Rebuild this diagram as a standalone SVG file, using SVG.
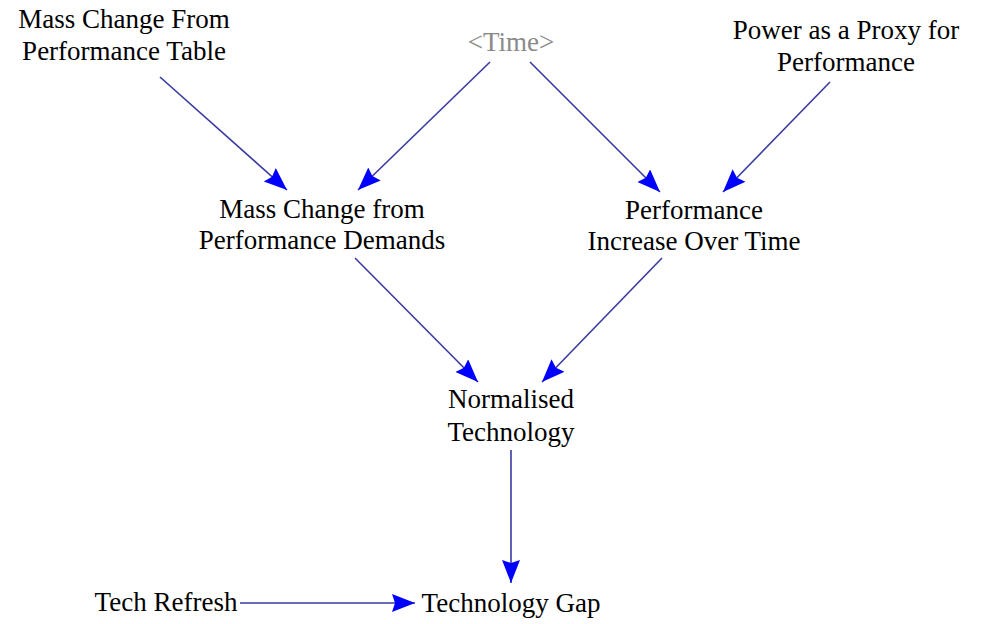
<svg xmlns="http://www.w3.org/2000/svg" width="985" height="624" viewBox="0 0 985 624">
<style>
text{font-family:'Liberation Serif','Times New Roman',Times,'DejaVu Serif',serif;font-size:27px;fill:#000;text-anchor:middle}
.shadow{fill:#8a8a8a}
.ln{stroke:#3a3aa0;stroke-width:1.6;fill:none;marker-end:url(#ah)}
</style>
<defs>
<marker id="ah" markerUnits="userSpaceOnUse" markerWidth="26" markerHeight="20" refX="23" refY="9" orient="auto">
<path d="M0,0 L23,9 L0,18 L3,9 z" fill="#0000ff"/>
</marker>
</defs>
<rect width="985" height="624" fill="#fff"/>
<g id="connectors">
<line class="ln" x1="160" y1="77" x2="287" y2="190"/>
<line class="ln" x1="490" y1="62" x2="358" y2="190"/>
<line class="ln" x1="530" y1="62" x2="660" y2="192"/>
<line class="ln" x1="830" y1="82" x2="723" y2="192"/>
<line class="ln" x1="355" y1="258" x2="478" y2="382"/>
<line class="ln" x1="662" y1="258" x2="542" y2="382"/>
<line class="ln" x1="511" y1="450" x2="511" y2="583"/>
<line class="ln" x1="240" y1="603" x2="415" y2="603"/>
</g>
<g id="mass-change-table"><text x="124" y="28">Mass Change From</text><text x="124" y="60">Performance Table</text></g>
<g id="time"><text class="shadow" x="511" y="51">&lt;Time&gt;</text></g>
<g id="power-proxy"><text x="846" y="39">Power as a Proxy for</text><text x="846" y="71">Performance</text></g>
<g id="mass-change-demands"><text x="322" y="218">Mass Change from</text><text x="322" y="249">Performance Demands</text></g>
<g id="performance-increase"><text x="694" y="219">Performance</text><text x="694" y="250">Increase Over Time</text></g>
<g id="normalised-technology"><text x="511" y="408">Normalised</text><text x="511" y="441">Technology</text></g>
<g id="tech-refresh"><text x="166" y="611">Tech Refresh</text></g>
<g id="technology-gap"><text x="511" y="612">Technology Gap</text></g>
</svg>
